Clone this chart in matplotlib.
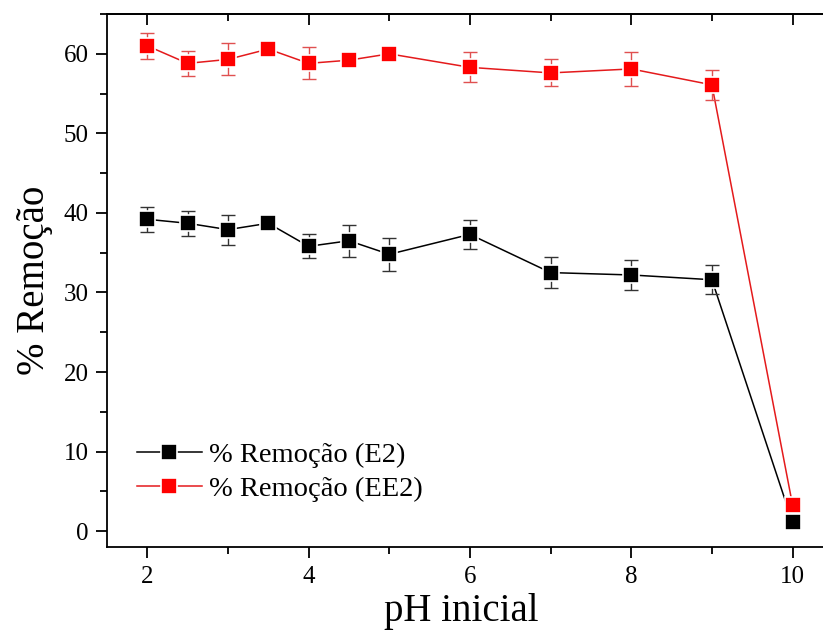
import matplotlib.pyplot as plt
from matplotlib.ticker import MultipleLocator

plt.rcParams['font.family'] = ['Liberation Serif', 'DejaVu Serif']

# pH values and removal percentages
ph = [2, 2.5, 3, 3.5, 4, 4.5, 5, 6, 7, 8, 9, 10]
rem_e2 = [39.2, 38.7, 37.9, 38.7, 35.8, 36.5, 34.8, 37.3, 32.5, 32.2, 31.6, 1.1]
err_e2 = [1.6, 1.6, 1.9, 0.5, 1.5, 2.0, 2.1, 1.8, 1.9, 1.9, 1.8, 0.3]
rem_ee2 = [61.0, 58.8, 59.3, 60.6, 58.8, 59.2, 60.0, 58.3, 57.6, 58.1, 56.1, 3.3]
err_ee2 = [1.6, 1.6, 2.0, 0.5, 2.0, 0.5, 0.8, 1.9, 1.7, 2.1, 1.9, 0.5]

fig = plt.figure(figsize=(8.23, 6.3), dpi=100)
ax = fig.add_axes([0.130, 0.1317, 0.882, 0.846])

# error bars first, then line + markers with a white rim (gap like Origin)
ax.errorbar(ph, rem_e2, yerr=err_e2, fmt='none', ecolor='#333333',
            elinewidth=1.0, capsize=5, capthick=1.0, zorder=2)
ax.errorbar(ph, rem_ee2, yerr=err_ee2, fmt='none', ecolor='#e05050',
            elinewidth=1.0, capsize=5, capthick=1.0, zorder=2)

ax.plot(ph, rem_e2, '-', color='black', lw=1.1, zorder=1)
ax.plot(ph, rem_ee2, '-', color='#e41a1c', lw=1.1, zorder=1)
ax.plot(ph, rem_e2, 's', color='black', ms=12, mec='white', mew=1.2, zorder=3)
ax.plot(ph, rem_ee2, 's', color='#ff0000', ms=12, mec='white', mew=1.2, zorder=3)

# legend handles
h1, = ax.plot([], [], '-s', color='black', lw=1.1, ms=11, mec='white', mew=1.2)
h2, = ax.plot([], [], '-s', color='#e41a1c', mfc='#ff0000', lw=1.1, ms=11,
              mec='white', mew=1.2)
ax.legend([h1, h2], ['% Remoção (E2)', '% Remoção (EE2)'], loc='upper left',
          bbox_to_anchor=(0.041, 0.197), frameon=False, fontsize=20.5,
          numpoints=1, handlelength=2.3, handletextpad=0.25, labelspacing=0.3,
          borderpad=0, borderaxespad=0)

ax.set_xlim(1.5, 10.5)
ax.set_ylim(-2, 65)
ax.xaxis.set_major_locator(MultipleLocator(2))
ax.xaxis.set_minor_locator(MultipleLocator(1))
ax.yaxis.set_major_locator(MultipleLocator(10))
ax.yaxis.set_minor_locator(MultipleLocator(5))

ax.tick_params(axis='x', which='both', direction='out', bottom=True,
               top=False, labelsize=18, pad=6, width=1.3)
ax.tick_params(axis='y', which='both', direction='out', left=True,
               right=False, labelsize=18, pad=5, width=1.3)
ax.tick_params(which='major', length=8)
ax.tick_params(which='minor', length=5)

# top axis with inward ticks, no labels
top = ax.secondary_xaxis('top')
top.xaxis.set_major_locator(MultipleLocator(2))
top.xaxis.set_minor_locator(MultipleLocator(1))
top.tick_params(which='both', direction='in', labeltop=False, width=1.3)
top.tick_params(which='major', length=8)
top.tick_params(which='minor', length=5)
top.spines['top'].set_linewidth(1.3)

for s in ax.spines.values():
    s.set_linewidth(1.3)

ax.set_xlabel('pH inicial', fontsize=28, labelpad=3)
ax.xaxis.label.set_x(0.4876)
ax.set_ylabel('% Remoção', fontsize=28, labelpad=8)

fig.savefig('out.png', dpi=100)
